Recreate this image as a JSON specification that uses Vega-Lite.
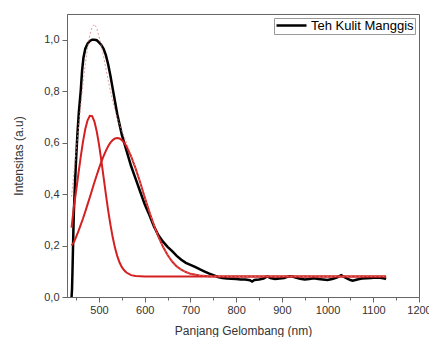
{
  "$schema": "https://vega.github.io/schema/vega-lite/v6.json",
  "width": 352,
  "height": 283,
  "autosize": "none",
  "padding": {"left": 67, "top": 14, "right": 10, "bottom": 40},
  "background": "white",
  "config": {
    "font": "Liberation Sans",
    "view": {"stroke": "#666", "strokeWidth": 1},
    "axis": {
      "grid": false,
      "domainColor": "#666",
      "tickColor": "#666",
      "labelColor": "#333",
      "titleColor": "#333",
      "labelFont": "Liberation Sans",
      "titleFont": "Liberation Sans",
      "labelFontSize": 11,
      "titleFontSize": 12,
      "titleFontWeight": "normal"
    }
  },
  "datasets": {
    "black": [
      {"x": 440, "y": 0.0}, {"x": 441, "y": 0.03}, {"x": 442, "y": 0.1}, {"x": 443, "y": 0.18},
      {"x": 444, "y": 0.26}, {"x": 445, "y": 0.33}, {"x": 447, "y": 0.42}, {"x": 450, "y": 0.54},
      {"x": 453, "y": 0.64}, {"x": 456, "y": 0.72}, {"x": 460, "y": 0.8}, {"x": 463, "y": 0.88},
      {"x": 466, "y": 0.93}, {"x": 470, "y": 0.965}, {"x": 475, "y": 0.985}, {"x": 480, "y": 0.995},
      {"x": 485, "y": 1.0}, {"x": 490, "y": 1.0}, {"x": 495, "y": 0.998}, {"x": 500, "y": 0.99},
      {"x": 505, "y": 0.98}, {"x": 510, "y": 0.965}, {"x": 515, "y": 0.94}, {"x": 520, "y": 0.905},
      {"x": 525, "y": 0.86}, {"x": 530, "y": 0.81}, {"x": 535, "y": 0.76}, {"x": 540, "y": 0.71},
      {"x": 545, "y": 0.67}, {"x": 550, "y": 0.63}, {"x": 555, "y": 0.6}, {"x": 560, "y": 0.57},
      {"x": 570, "y": 0.51}, {"x": 580, "y": 0.46}, {"x": 590, "y": 0.41}, {"x": 600, "y": 0.36},
      {"x": 610, "y": 0.32}, {"x": 620, "y": 0.275}, {"x": 630, "y": 0.24}, {"x": 640, "y": 0.215},
      {"x": 650, "y": 0.195}, {"x": 660, "y": 0.178}, {"x": 670, "y": 0.16}, {"x": 680, "y": 0.145},
      {"x": 690, "y": 0.133}, {"x": 700, "y": 0.125}, {"x": 710, "y": 0.117}, {"x": 720, "y": 0.108},
      {"x": 730, "y": 0.1}, {"x": 740, "y": 0.092}, {"x": 750, "y": 0.085}, {"x": 760, "y": 0.078},
      {"x": 770, "y": 0.074}, {"x": 780, "y": 0.072}, {"x": 790, "y": 0.071}, {"x": 800, "y": 0.07},
      {"x": 810, "y": 0.068}, {"x": 820, "y": 0.068}, {"x": 830, "y": 0.065}, {"x": 835, "y": 0.06},
      {"x": 840, "y": 0.066}, {"x": 850, "y": 0.068}, {"x": 860, "y": 0.072}, {"x": 868, "y": 0.08},
      {"x": 875, "y": 0.074}, {"x": 885, "y": 0.07}, {"x": 895, "y": 0.072}, {"x": 905, "y": 0.074},
      {"x": 915, "y": 0.08}, {"x": 920, "y": 0.081}, {"x": 930, "y": 0.076}, {"x": 940, "y": 0.071},
      {"x": 950, "y": 0.068}, {"x": 960, "y": 0.07}, {"x": 970, "y": 0.073}, {"x": 980, "y": 0.07},
      {"x": 990, "y": 0.068}, {"x": 1000, "y": 0.066}, {"x": 1010, "y": 0.07}, {"x": 1020, "y": 0.075},
      {"x": 1030, "y": 0.085}, {"x": 1040, "y": 0.074}, {"x": 1050, "y": 0.066}, {"x": 1055, "y": 0.063},
      {"x": 1065, "y": 0.068}, {"x": 1075, "y": 0.072}, {"x": 1085, "y": 0.073}, {"x": 1095, "y": 0.074},
      {"x": 1105, "y": 0.076}, {"x": 1115, "y": 0.075}, {"x": 1125, "y": 0.072}, {"x": 1128, "y": 0.07}
    ],
    "fit": [
      {"x": 440, "n": 0.27, "b": 0.2, "s": 0.39},
      {"x": 445, "n": 0.35, "b": 0.213, "s": 0.483},
      {"x": 450, "n": 0.413, "b": 0.234, "s": 0.567},
      {"x": 455, "n": 0.48, "b": 0.256, "s": 0.656},
      {"x": 460, "n": 0.545, "b": 0.28, "s": 0.745},
      {"x": 465, "n": 0.604, "b": 0.305, "s": 0.83},
      {"x": 470, "n": 0.653, "b": 0.332, "s": 0.905},
      {"x": 475, "n": 0.687, "b": 0.36, "s": 0.967},
      {"x": 480, "n": 0.704, "b": 0.388, "s": 1.018},
      {"x": 485, "n": 0.703, "b": 0.417, "s": 1.05},
      {"x": 490, "n": 0.682, "b": 0.446, "s": 1.06},
      {"x": 495, "n": 0.644, "b": 0.473, "s": 1.045},
      {"x": 500, "n": 0.593, "b": 0.5, "s": 1.013},
      {"x": 505, "n": 0.532, "b": 0.525, "s": 0.977},
      {"x": 510, "n": 0.466, "b": 0.548, "s": 0.935},
      {"x": 515, "n": 0.4, "b": 0.568, "s": 0.889},
      {"x": 520, "n": 0.337, "b": 0.586, "s": 0.843},
      {"x": 525, "n": 0.281, "b": 0.6, "s": 0.8},
      {"x": 530, "n": 0.232, "b": 0.61, "s": 0.761},
      {"x": 535, "n": 0.191, "b": 0.616, "s": 0.727},
      {"x": 540, "n": 0.159, "b": 0.618, "s": 0.697},
      {"x": 545, "n": 0.134, "b": 0.616, "s": 0.67},
      {"x": 550, "n": 0.116, "b": 0.61, "s": 0.646},
      {"x": 555, "n": 0.104, "b": 0.6, "s": 0.623},
      {"x": 560, "n": 0.095, "b": 0.586, "s": 0.601},
      {"x": 570, "n": 0.085, "b": 0.548, "s": 0.553},
      {"x": 580, "n": 0.082, "b": 0.5, "s": 0.502},
      {"x": 590, "n": 0.081, "b": 0.446, "s": 0.446},
      {"x": 600, "n": 0.08, "b": 0.388, "s": 0.388},
      {"x": 610, "n": 0.08, "b": 0.332, "s": 0.332},
      {"x": 620, "n": 0.08, "b": 0.28, "s": 0.28},
      {"x": 630, "n": 0.08, "b": 0.234, "s": 0.234},
      {"x": 640, "n": 0.08, "b": 0.195, "s": 0.195},
      {"x": 650, "n": 0.08, "b": 0.163, "s": 0.163},
      {"x": 660, "n": 0.08, "b": 0.138, "s": 0.138},
      {"x": 670, "n": 0.08, "b": 0.119, "s": 0.119},
      {"x": 680, "n": 0.08, "b": 0.106, "s": 0.106},
      {"x": 690, "n": 0.08, "b": 0.097, "s": 0.097},
      {"x": 700, "n": 0.08, "b": 0.09, "s": 0.09},
      {"x": 720, "n": 0.08, "b": 0.084, "s": 0.084},
      {"x": 740, "n": 0.08, "b": 0.081, "s": 0.081},
      {"x": 760, "n": 0.08, "b": 0.08, "s": 0.08},
      {"x": 1128, "n": 0.08, "b": 0.08, "s": 0.08}
    ]
  },
  "encoding": {
    "x": {
      "field": "x", "type": "quantitative",
      "scale": {"domain": [430, 1200], "nice": false, "zero": false},
      "axis": {
        "title": "Panjang Gelombang (nm)",
        "values": [450, 500, 550, 600, 650, 700, 750, 800, 850, 900, 950, 1000, 1050, 1100, 1150, 1200],
        "format": "d",
        "labelExpr": "datum.value % 100 == 0 ? datum.label : ''",
        "tickSize": {"condition": {"test": "datum.value % 100 == 0", "value": 5}, "value": 3},
        "labelPadding": 2,
        "titlePadding": 10,
        "labelFlush": false,
        "labelOverlap": false
      }
    }
  },
  "layer": [
    {
      "data": {"name": "black"},
      "mark": {"type": "line", "strokeWidth": 2.5, "interpolate": "linear"},
      "encoding": {
        "y": {
          "field": "y", "type": "quantitative",
          "scale": {"domain": [0, 1.1], "nice": false},
          "axis": {
            "title": "Intensitas (a.u)",
            "values": [0, 0.1, 0.2, 0.3, 0.4, 0.5, 0.6, 0.7, 0.8, 0.9, 1.0],
            "labelExpr": "round(datum.value*10) % 2 == 0 ? replace(format(datum.value, '.1f'), '.', ',') : ''",
            "tickSize": {"condition": {"test": "round(datum.value*10) % 2 == 0", "value": 5}, "value": 3},
            "labelPadding": 3,
            "titlePadding": 18,
            "labelOverlap": false
          }
        },
        "color": {
          "datum": "Teh Kulit Manggis",
          "type": "nominal",
          "scale": {"domain": ["Teh Kulit Manggis"], "range": ["#000000"]},
          "legend": {
            "title": null,
            "orient": "top-right",
            "offset": 4,
            "symbolType": "stroke",
            "symbolStrokeWidth": 2.5,
            "symbolSize": 900,
            "clipHeight": 13,
            "labelFontSize": 13,
            "labelOffset": 3,
            "labelFont": "Liberation Sans",
            "labelColor": "#000",
            "strokeColor": "#999",
            "padding": 1,
            "fillColor": "white"
          }
        }
      }
    },
    {
      "data": {"name": "fit"},
      "mark": {"type": "line", "color": "#d42020", "strokeWidth": 2},
      "encoding": {"y": {"field": "n", "type": "quantitative"}}
    },
    {
      "data": {"name": "fit"},
      "mark": {"type": "line", "color": "#d42020", "strokeWidth": 2},
      "encoding": {"y": {"field": "b", "type": "quantitative"}}
    },
    {
      "data": {"name": "fit"},
      "mark": {"type": "line", "color": "#d88080", "strokeWidth": 0.8, "strokeDash": [2, 2]},
      "encoding": {"y": {"field": "s", "type": "quantitative"}}
    }
  ]
}
